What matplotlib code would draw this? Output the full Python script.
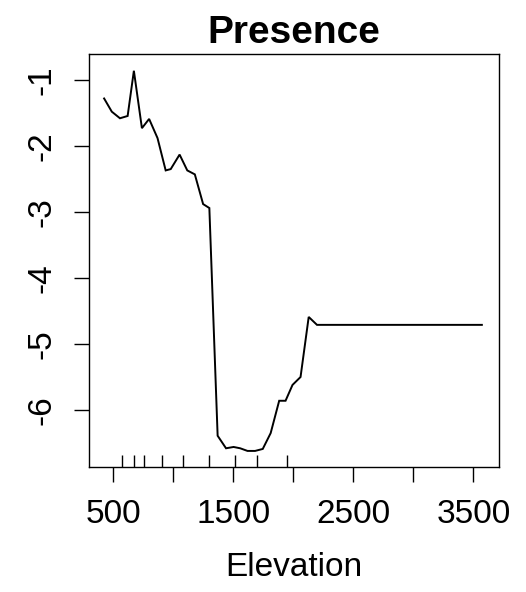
#!/usr/bin/env python3
"""Partial dependence of presence on elevation (R gbm-style plot)."""

import matplotlib

matplotlib.use("Agg")
import matplotlib.pyplot as plt
import matplotlib.transforms as mtransforms

elevation = [423, 487, 555, 619, 671, 738, 798, 868, 936, 978, 1052, 1116, 1179,
             1248, 1300, 1369, 1439, 1502, 1557, 1618, 1681, 1745, 1811, 1882,
             1935, 1993, 2060, 2128, 2197, 3571]
presence = [-1.28, -1.48, -1.58, -1.545, -0.86, -1.73, -1.59, -1.88, -2.37, -2.35,
            -2.13, -2.37, -2.43, -2.88, -2.94, -6.39, -6.58, -6.56, -6.58, -6.62,
            -6.62, -6.59, -6.35, -5.86, -5.86, -5.62, -5.50, -4.59, -4.71, -4.71]
rug_deciles = [572, 669, 752, 903, 1083, 1298, 1513, 1695, 1944]

x_ticks = [500, 1000, 1500, 2000, 2500, 3000, 3500]
x_tick_labels = ["500", "", "1500", "", "2500", "", "3500"]
y_ticks = [-6, -5, -4, -3, -2, -1]

plt.rcParams["font.family"] = ["Liberation Sans", "DejaVu Sans"]

fig = plt.figure(figsize=(5.26, 5.92), dpi=100)
ax = fig.add_axes([0.1692, 0.2111, 0.9487 - 0.1692, 0.9088 - 0.2111])

ax.plot(elevation, presence, color="black", lw=1.4, solid_joinstyle="miter")

# rug of deciles along the bottom edge
trans = mtransforms.blended_transform_factory(ax.transData, ax.transAxes)
ax.vlines(rug_deciles, 0, 0.03, transform=trans, color="black", lw=1.0)

ax.set_xlim(297, 3714)
ax.set_ylim(-6.864, -0.606)
ax.set_xticks(x_ticks)
ax.set_xticklabels(x_tick_labels)
ax.set_yticks(y_ticks)
ax.set_yticklabels([str(v) for v in y_ticks], rotation=90, va="center")

ax.tick_params(axis="both", direction="out", length=11, width=1.0, labelsize=24)
ax.tick_params(axis="x", pad=12)
ax.tick_params(axis="y", pad=12)
for spine in ax.spines.values():
    spine.set_linewidth(1.0)

ax.set_xlabel("Elevation", fontsize=24, labelpad=16)
ax.set_title("Presence", fontsize=28, fontweight="bold", pad=8)

fig.savefig("out.png", dpi=100, facecolor="white")
